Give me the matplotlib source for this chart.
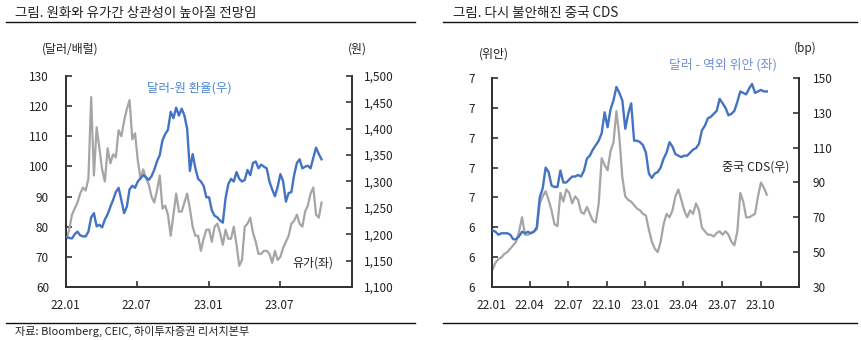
import numpy as np
import pandas as pd
import matplotlib
matplotlib.use("Agg")
import matplotlib.pyplot as plt
import matplotlib.dates as mdates
from matplotlib.ticker import FuncFormatter

plt.rcParams['font.family'] = ['Noto Sans CJK KR', 'DejaVu Sans']

# weekly observations (Mondays) 2022-01-03 .. 2023-10-16
dates = pd.date_range('2022-01-03', '2023-10-16', freq='W-MON')

oil = [76, 79, 84, 86, 88,  91, 93, 92, 96,  123, 97, 113, 106,  99, 95, 106, 101,
       104, 103, 112, 110, 115,  119, 122, 109, 111,  102, 96, 99, 96,
       94, 90, 88, 92, 97,  86, 87, 84, 77,  84, 91, 85, 85, 88,  91, 86, 80, 77,
       77, 72, 76, 79,
       79, 75, 80, 81, 78,  74, 79, 76, 76,  80, 74, 67, 69,  80, 81, 83, 78,
       75, 71, 71, 72, 72,  71, 68, 72, 69,  70, 73, 75, 77, 81,  82, 84, 81, 80,
       85, 87, 91, 93,  84, 83, 88]

krw = [1195, 1193, 1192, 1200, 1205,  1198, 1196, 1196, 1205,  1232, 1240, 1215, 1218,
       1213, 1228, 1238, 1252,  1265, 1280, 1288, 1265, 1240,  1252, 1285, 1292, 1288,
       1300, 1306, 1312, 1308,  1303, 1310, 1322, 1338, 1350,  1378, 1390, 1398, 1432,
       1420, 1440, 1425, 1438, 1425,  1400, 1320, 1352, 1325,  1305, 1300, 1292, 1270,
       1270, 1245, 1235, 1232, 1226,  1222, 1268, 1295, 1305,  1300, 1318, 1305, 1300,
       1303, 1322, 1312, 1335,  1338, 1325, 1332, 1328, 1325,  1300, 1285, 1272, 1290,
       1314, 1300, 1262, 1278, 1280,  1312, 1335, 1342, 1325,  1328, 1330, 1325, 1345,
       1364, 1352, 1342]

cnh = [6.38, 6.37, 6.35, 6.36, 6.36,  6.36, 6.35, 6.32, 6.32,  6.34, 6.37, 6.36, 6.37,
       6.36, 6.37, 6.40, 6.60,  6.66, 6.80, 6.77, 6.68, 6.67,  6.67, 6.78, 6.70, 6.70,
       6.72, 6.74, 6.74, 6.75,  6.74, 6.78, 6.86, 6.88, 6.92,  6.95, 6.98, 7.03, 7.17,
       7.07, 7.19, 7.25, 7.34, 7.30,  7.25, 7.06, 7.16, 7.23,  6.98, 6.98, 6.97, 6.95,
       6.90, 6.76, 6.73, 6.76, 6.77,  6.80, 6.86, 6.90, 6.97,  6.94, 6.89, 6.88, 6.87,
       6.88, 6.88, 6.90, 6.92,  6.93, 6.96, 7.05, 7.08, 7.13,  7.14, 7.16, 7.18, 7.26,
       7.23, 7.20, 7.15, 7.16, 7.18,  7.24, 7.31, 7.30, 7.29,  7.33, 7.36, 7.30, 7.31,
       7.32, 7.31, 7.31]

cds = [40, 44, 46, 47, 49,  50, 52, 54, 56,  62, 70, 60, 60,  61, 62, 63, 78,
       82, 85, 80, 74, 66,  65, 84, 79, 86,  84, 78, 82, 80,  73, 72, 76, 72, 68,
       67, 78, 104, 100,  97, 108, 113, 131, 116,  93, 82, 80, 79,  77, 75, 74, 72,
       71, 63, 56, 52, 50,  56, 66, 72, 70,  74, 82, 86, 80,  74, 70, 74, 72,
       78, 74, 64, 62, 60,  60, 59, 61, 62,  60, 62, 60, 56, 54,  62, 84, 79, 70,
       70, 71, 72, 82,  90, 87, 83]

BLUE = '#4472C4'
GREY = '#A5A5A5'
INK = '#222222'

fig = plt.figure(figsize=(8.61, 3.40), dpi=100)


def style(ax, ax2, lpad, rpad):
    for a in (ax, ax2):
        a.spines['top'].set_visible(False)
        for s in ('left', 'right', 'bottom'):
            a.spines[s].set_linewidth(1.3)
            a.spines[s].set_color('#333333')
        a.tick_params(direction='in', length=4, width=1.2, color='#333333',
                      labelsize=8.5, labelcolor=INK)
    ax.tick_params(axis='y', pad=lpad)
    ax2.tick_params(axis='y', pad=rpad)
    ax.tick_params(axis='x', pad=9)
    ax.set_xlim(pd.Timestamp('2022-01-01'), pd.Timestamp('2024-01-01'))
    ax.xaxis.set_major_formatter(mdates.DateFormatter('%y.%m'))


# ---- left chart: oil vs USD/KRW
ax = fig.add_axes([0.0763, 0.1559, 0.3322, 0.6206])
ax2 = ax.twinx()
ax.plot(dates, oil, color=GREY, lw=1.6, zorder=2)
ax2.plot(dates, krw, color=BLUE, lw=1.7, zorder=3)
ax.set_ylim(60, 130)
ax.set_yticks(np.arange(60, 131, 10))
ax2.set_ylim(1100, 1500)
ax2.set_yticks(np.arange(1100, 1501, 50))
ax2.yaxis.set_major_formatter(FuncFormatter(lambda v, p: f'{v:,.0f}'))
style(ax, ax2, 12, 9)
ax.set_xticks(pd.to_datetime(['2022-01-01', '2022-07-01', '2023-01-01', '2023-07-01']))

fig.text(70 / 861, 1 - 49 / 340, '(달러/배럴)', fontsize=8.6, color=INK, ha='center', va='center')
fig.text(357 / 861, 1 - 49 / 340, '(원)', fontsize=8.6, color=INK, ha='center', va='center')
fig.text(189 / 861, 1 - 88 / 340, '달러-원 환율(우)', fontsize=9, color='#4F87D2', ha='center', va='center')
fig.text(313 / 861, 1 - 263 / 340, '유가(좌)', fontsize=8.6, color=INK, ha='center', va='center')

# ---- right chart: USD/CNH vs China CDS
bx = fig.add_axes([0.5711, 0.1559, 0.3572, 0.6147])
bx2 = bx.twinx()
bx2.plot(dates, cds, color=GREY, lw=1.6, zorder=2)
bx.plot(dates, cnh, color=BLUE, lw=1.7, zorder=3)
bx.set_zorder(bx2.get_zorder() + 1)
bx.patch.set_visible(False)
bx.set_ylim(6.0, 7.4)
bx.set_yticks(np.arange(6.0, 7.41, 0.2))
bx.yaxis.set_major_formatter(FuncFormatter(lambda v, p: f'{v:.0f}'))
bx2.set_ylim(30, 150)
bx2.set_yticks(np.arange(30, 151, 20))
style(bx, bx2, 12, 9.5)
bx.set_xticks(pd.date_range('2022-01-01', '2023-10-01', freq='QS'))

fig.text(494 / 861, 1 - 54 / 340, '(위안)', fontsize=8.6, color=INK, ha='center', va='center')
fig.text(805 / 861, 1 - 48 / 340, '(bp)', fontsize=8.6, color=INK, ha='center', va='center')
fig.text(723 / 861, 1 - 65 / 340, '달러 - 역외 위안 (좌)', fontsize=9.3, color='#7090D8', ha='center', va='center')
fig.text(756 / 861, 1 - 167 / 340, '중국 CDS(우)', fontsize=8.7, color=INK, ha='center', va='center')

# ---- titles, rules, source
fig.text(15 / 861, 1 - 13 / 340, '그림. 원화와 유가간 상관성이 높아질 전망임', fontsize=9.7, color=INK, va='center')
fig.text(453 / 861, 1 - 13 / 340, '그림. 다시 불안해진 중국 CDS', fontsize=9.7, color=INK, va='center')
fig.text(15 / 861, 1 - 331 / 340, '자료: Bloomberg, CEIC, 하이투자증권 리서치본부', fontsize=8, color=INK, va='center')
for x0, x1 in ((6, 415), (443, 857)):
    for y in (22, 323):
        fig.add_artist(plt.Line2D([x0 / 861, x1 / 861], [1 - y / 340, 1 - y / 340],
                                  color='#111111', lw=1.0))

fig.savefig('out.png', dpi=100)
